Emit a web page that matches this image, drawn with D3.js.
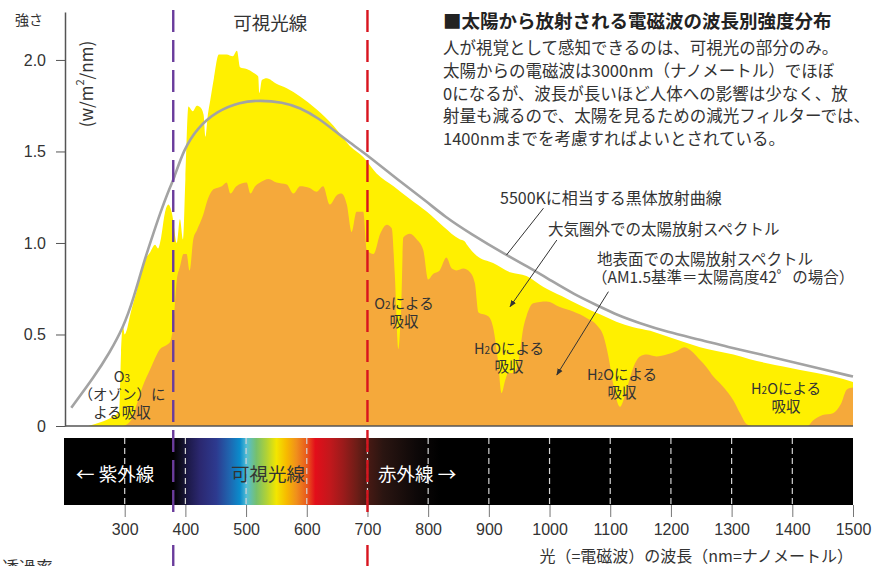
<!DOCTYPE html>
<html>

<head>
    <meta charset="utf-8">
    <style>
        body {
            margin: 0;
            background: #fff;
        }

        svg {
            display: block;
            font-family: "Noto Sans CJK JP", "Noto Sans", sans-serif;
        }

        .y .domain {
            stroke: #555;
            stroke-width: 1.5px;
        }

        .y .tick line {
            stroke: #555;
        }

        .x .domain {
            display: none;
        }

        .x .tick line {
            stroke: #777;
        }

        .tick text {
            font-size: 16px;
            fill: #333;
        }
    </style>
</head>

<body>
    <svg width="875" height="566"></svg>

    <script src="https://cdn.jsdelivr.net/npm/d3@7"></script>

    <script>
        // ---- data ----
        let xTicks = [300, 400, 500, 600, 700, 800, 900, 1000, 1100, 1200, 1300, 1400, 1500]
        let yTicks = [0, 0.5, 1.0, 1.5, 2.0]
        let yTickLabels = ["0", "0.5", "1.0", "1.5", "2.0"]

        // visible light range (violet / red dashed lines)
        let visibleBounds = [380, 700]

        // 5500K black body curve [nm, W/m2/nm]
        let blackbody = [
            [212, 0.10], [250, 0.27], [275, 0.40], [298, 0.54], [315, 0.70], [331, 0.89], [345, 1.03],
            [358, 1.16], [375, 1.31], [380, 1.34], [397, 1.51], [420, 1.63], [452, 1.72], [490, 1.77],
            [523, 1.78], [560, 1.77], [589, 1.74], [620, 1.68], [643, 1.62], [670, 1.55], [700, 1.48],
            [754, 1.335], [800, 1.22], [825, 1.15], [870, 1.05], [929, 0.934], [962, 0.874], [1000, 0.80],
            [1040, 0.72], [1083, 0.652], [1111, 0.607], [1150, 0.56], [1193, 0.515], [1250, 0.47],
            [1292, 0.433], [1350, 0.39], [1400, 0.35], [1450, 0.31], [1500, 0.27]
        ]

        // spectrum outside the atmosphere [nm, W/m2/nm]
        let extraterrestrial = [
            [240, 0], [260, 0.02], [280, 0.05], [291, 0.08], [294, 0.40], [297, 0.55], [300, 0.50],
            [303, 0.52], [310, 0.62], [320, 0.74], [331, 0.89], [342, 0.95], [350, 0.99], [355, 0.97],
            [360, 1.03], [366, 1.16], [372, 1.21], [378, 1.16], [386, 1.00], [391, 1.13], [396, 1.02],
            [400, 1.35], [405, 1.745], [412, 1.72], [419, 1.75], [425, 1.74], [430, 1.70], [433, 1.58],
            [437, 1.70], [441, 1.78], [447, 1.90], [455, 2.03], [468, 2.03], [478, 2.02], [485, 2.05],
            [490, 1.96], [501, 1.95], [512, 1.93], [520, 1.91], [522, 1.82], [526, 1.89], [534, 1.90],
            [550, 1.87], [567, 1.845], [589, 1.80], [616, 1.73], [644, 1.64], [671, 1.53], [693, 1.47],
            [715, 1.38], [743, 1.31], [770, 1.24], [798, 1.17], [825, 1.09], [852, 1.02], [860, 1.01],
            [864, 0.99], [880, 0.93], [907, 0.89], [935, 0.84], [962, 0.82], [990, 0.76], [1020, 0.71],
            [1050, 0.66], [1083, 0.61], [1110, 0.57], [1138, 0.54], [1166, 0.52], [1193, 0.49],
            [1220, 0.46], [1248, 0.43], [1275, 0.41], [1303, 0.39], [1330, 0.365], [1358, 0.343],
            [1385, 0.325], [1413, 0.306], [1440, 0.29], [1468, 0.27], [1500, 0.24]
        ]

        // spectrum at the ground, AM1.5 [nm, W/m2/nm]
        let surface = [
            [298, 0], [310, 0.03], [320, 0.12], [330, 0.22], [342, 0.31], [350, 0.37], [358, 0.42],
            [368, 0.44], [375, 0.46], [380, 0.55], [386, 0.80], [391, 0.87], [397, 0.94], [402, 0.94],
            [407, 0.85], [413, 1.02], [419, 1.07], [429, 1.15], [437, 1.24], [445, 1.29], [452, 1.30],
            [460, 1.31], [468, 1.33], [474, 1.27], [484, 1.31], [501, 1.33], [507, 1.27], [515, 1.31],
            [523, 1.33], [537, 1.35], [550, 1.33], [567, 1.32], [578, 1.27], [589, 1.31], [605, 1.30],
            [616, 1.28], [627, 1.31], [638, 1.21], [649, 1.26], [657, 1.27], [666, 1.21], [674, 1.06],
            [682, 1.17], [693, 1.17], [699, 0.96], [710, 0.94], [721, 1.05], [732, 1.10], [740, 1.08],
            [745, 0.83], [751, 0.42], [756, 0.70], [759, 1.03], [770, 1.05], [781, 1.02], [792, 0.96],
            [800, 0.80], [808, 0.83], [819, 0.85], [830, 0.92], [839, 0.86], [847, 0.85], [858, 0.86],
            [869, 0.84], [877, 0.78], [883, 0.62], [899, 0.60], [907, 0.54], [915, 0.36], [921, 0.18],
            [927, 0.25], [932, 0.29], [940, 0.29], [948, 0.34], [957, 0.54], [962, 0.60], [973, 0.67],
            [995, 0.68], [1017, 0.65], [1039, 0.625], [1061, 0.59], [1078, 0.55], [1089, 0.49],
            [1097, 0.38], [1105, 0.23], [1116, 0.105], [1127, 0.20], [1138, 0.32], [1149, 0.38],
            [1160, 0.39], [1176, 0.38], [1193, 0.39], [1210, 0.41], [1222, 0.43], [1237, 0.40],
            [1248, 0.36], [1259, 0.32], [1270, 0.27], [1286, 0.215], [1303, 0.14], [1314, 0.07],
            [1325, 0.01], [1335, 0], [1425, 0], [1434, 0.03], [1450, 0.06], [1467, 0.07], [1480, 0.12],
            [1490, 0.20], [1500, 0.21]
        ]

        // colour of light along the band [nm, colour]
        let spectrumStops = [
            [380, "#000000"], [395, "#121028"], [405, "#1d1a4a"], [424, "#2b2870"], [451, "#2d3a8f"],
            [473, "#1f66b0"], [490, "#0a8ccc"], [501, "#56bfd6"], [517, "#76c06d"], [534, "#b2d235"],
            [550, "#f3e600"], [567, "#f7b900"], [583, "#f08f1c"], [600, "#e85a1d"], [614, "#e30e1a"],
            [638, "#c2181c"], [660, "#9b1b1b"], [682, "#6e1d17"], [699, "#4a1a14"], [726, "#2a1511"],
            [781, "#0d0808"], [820, "#000000"]
        ]

        let bodyLines = [
            "人が視覚として感知できるのは、可視光の部分のみ。",
            "太陽からの電磁波は3000nm（ナノメートル）でほぼ",
            "0になるが、波長が長いほど人体への影響は少なく、放",
            "射量も減るので、太陽を見るための減光フィルターでは、",
            "1400nmまでを考慮すればよいとされている。"
        ]

        let width = 875
        let height = 566

        let svg = d3.select("svg")

        let x = d3.scaleLinear()
            .domain([200, 1500])
            .range([64, 853])

        let y = d3.scaleLinear()
            .domain([0, 2.262])
            .range([426, 12])

        let defs = svg.append("defs")

        // gradient for the spectrum band
        let grad = defs.append("linearGradient")
            .attr("id", "spectrum")
            .attr("gradientUnits", "userSpaceOnUse")
            .attr("x1", x(200))
            .attr("x2", x(1500))
            .attr("y1", 0)
            .attr("y2", 0)

        grad.selectAll("stop")
            .data(spectrumStops)
            .join("stop")
            .attr("offset", d => (x(d[0]) - x(200)) / (x(1500) - x(200)))
            .attr("stop-color", d => d[1])

        defs.append("marker")
            .attr("id", "arrow")
            .attr("viewBox", "0 0 10 10")
            .attr("refX", 9)
            .attr("refY", 5)
            .attr("markerWidth", 7)
            .attr("markerHeight", 7)
            .attr("orient", "auto")
            .append("path")
            .attr("d", "M0,1 L10,5 L0,9 Z")
            .attr("fill", "#333")

        // ---- areas ----
        let area = d3.area()
            .x(d => x(d[0]))
            .y0(y(0))
            .y1(d => y(d[1]))
            .curve(d3.curveMonotoneX)

        svg.append("path")
            .datum(extraterrestrial)
            .attr("d", area)
            .attr("fill", "#fff000")

        svg.append("path")
            .datum(surface)
            .attr("d", area)
            .attr("fill", "#f5a93b")

        // black body curve
        svg.append("path")
            .datum(blackbody)
            .attr("d", d3.line().x(d => x(d[0])).y(d => y(d[1])).curve(d3.curveBasis))
            .attr("fill", "none")
            .attr("stroke", "#a3a3a3")
            .attr("stroke-width", 2.6)

        // base line
        svg.append("line")
            .attr("x1", x(200) + 1)
            .attr("x2", x(1500))
            .attr("y1", y(0))
            .attr("y2", y(0))
            .attr("stroke", "#555")
            .attr("stroke-width", 1.5)

        // y axis
        svg.append("g")
            .attr("class", "y axis")
            .attr("transform", `translate(${x(200) + 1},0)`)
            .call(d3.axisLeft(y)
                .tickValues(yTicks)
                .tickFormat((d, i) => yTickLabels[i])
                .tickSize(9)
                .tickPadding(10)
                .tickSizeOuter(0))

        svg.append("text")
            .attr("x", 15)
            .attr("y", 19)
            .attr("dominant-baseline", "central")
            .style("font-size", "14px")
            .style("fill", "#333")
            .text("強さ")

        let unit = svg.append("text")
            .attr("transform", "translate(85,84) rotate(-90)")
            .attr("text-anchor", "middle")
            .attr("dominant-baseline", "central")
            .style("font-size", "17px")
            .style("fill", "#333")
        unit.append("tspan").text("(w/m")
        unit.append("tspan").attr("dy", -6).style("font-size", "11px").text("2")
        unit.append("tspan").attr("dy", 6).text("/nm)")

        // ---- spectrum band ----
        let bandTop = 438
        let bandBottom = 505

        svg.append("rect")
            .attr("x", x(200))
            .attr("y", bandTop)
            .attr("width", x(1500) - x(200))
            .attr("height", bandBottom - bandTop)
            .attr("fill", "url(#spectrum)")

        svg.append("g")
            .selectAll("line")
            .data(xTicks.filter(d => d < 1500))
            .join("line")
            .attr("x1", d => x(d))
            .attr("x2", d => x(d))
            .attr("y1", bandTop)
            .attr("y2", bandBottom)
            .attr("stroke", "#d4d4d4")
            .attr("stroke-width", 1.2)
            .attr("stroke-dasharray", "6,4")

        svg.append("g")
            .attr("class", "x axis")
            .attr("transform", `translate(0,${bandBottom})`)
            .call(d3.axisBottom(x)
                .tickValues(xTicks)
                .tickFormat(d3.format("d"))
                .tickSize(12)
                .tickPadding(7))

        let bandText = svg.append("g")
            .style("font-size", "18.5px")
            .attr("dominant-baseline", "central")

        bandText.append("text")
            .attr("x", 76)
            .attr("y", 473)
            .style("fill", "#fff")
            .text("← 紫外線")

        bandText.append("text")
            .attr("x", 268)
            .attr("y", 473)
            .attr("text-anchor", "middle")
            .style("fill", "#333")
            .text("可視光線")

        bandText.append("text")
            .attr("x", 378)
            .attr("y", 473)
            .style("fill", "#fff")
            .text("赤外線 →")

        // ---- visible light boundaries ----
        let boundColors = ["#6a3c9c", "#d8141e"]
        let boundSegments = [[10, 517], [545, 566]]

        visibleBounds.forEach(function (nm, i) {
            svg.append("g")
                .selectAll("line")
                .data(boundSegments)
                .join("line")
                .attr("x1", x(nm))
                .attr("x2", x(nm))
                .attr("y1", d => d[0])
                .attr("y2", d => d[1])
                .attr("stroke", boundColors[i])
                .attr("stroke-width", 2.4)
                .attr("stroke-dasharray", (d, j) => j == 0 ? "22,8" : null)
        })

        svg.append("text")
            .attr("x", (x(visibleBounds[0]) + x(visibleBounds[1])) / 2)
            .attr("y", 22)
            .attr("text-anchor", "middle")
            .attr("dominant-baseline", "central")
            .style("font-size", "18.5px")
            .style("fill", "#333")
            .text("可視光線")

        // ---- title and description ----
        svg.append("text")
            .attr("x", 443)
            .attr("y", 20)
            .attr("dominant-baseline", "central")
            .style("font-size", "18.5px")
            .style("font-weight", "bold")
            .style("fill", "#222")
            .text("■太陽から放射される電磁波の波長別強度分布")

        svg.append("g")
            .selectAll("text")
            .data(bodyLines)
            .join("text")
            .attr("x", 443)
            .attr("y", (d, i) => 47 + i * 22.8)
            .attr("dominant-baseline", "central")
            .style("font-size", "16.5px")
            .style("fill", "#333")
            .text(d => d)

        // ---- annotations ----
        let labels = svg.append("g")
            .style("fill", "#333")
            .attr("dominant-baseline", "central")

        labels.append("text").attr("x", 500).attr("y", 197).style("font-size", "16px")
            .text("5500Kに相当する黒体放射曲線")
        labels.append("text").attr("x", 548).attr("y", 228).style("font-size", "15.5px")
            .text("大気圏外での太陽放射スペクトル")
        labels.append("text").attr("x", 597).attr("y", 258).style("font-size", "15.5px")
            .text("地表面での太陽放射スペクトル")
        labels.append("text").attr("x", 592).attr("y", 276).style("font-size", "15.5px")
            .text("（AM1.5基準＝太陽高度42゜の場合）")

        // leader lines [from nm, from value, to nm, to value, arrow]
        let leaders = [
            [990, 1.19, 929, 0.934, false],
            [1012, 1.016, 935, 0.652, true],
            [1097, 0.734, 1012, 0.279, true]
        ]

        svg.append("g")
            .selectAll("line")
            .data(leaders)
            .join("line")
            .attr("x1", d => x(d[0]))
            .attr("y1", d => y(d[1]))
            .attr("x2", d => x(d[2]))
            .attr("y2", d => y(d[3]))
            .attr("stroke", "#333")
            .attr("stroke-width", 1)
            .attr("marker-end", d => d[4] ? "url(#arrow)" : null)

        // absorption labels
        function absorbLabel(cx, cy, mol, sub, tail, second) {
            let t = labels.append("text")
                .attr("x", cx)
                .attr("y", cy)
                .attr("text-anchor", "middle")
                .style("font-size", "14.5px")
            t.append("tspan").text(mol)
            t.append("tspan").attr("dy", 2).style("font-size", "10px").text(sub)
            t.append("tspan").attr("dy", -2).text(tail)
            labels.append("text")
                .attr("x", cx)
                .attr("y", cy + 18)
                .attr("text-anchor", "middle")
                .style("font-size", "14.5px")
                .text(second)
        }

        let o3 = labels.append("text")
            .attr("x", 122)
            .attr("y", 375)
            .attr("text-anchor", "middle")
            .style("font-size", "14.5px")
        o3.append("tspan").text("O")
        o3.append("tspan").attr("dy", 2).style("font-size", "10px").text("3")
        labels.append("text").attr("x", 122).attr("y", 393).attr("text-anchor", "middle")
            .style("font-size", "14.5px").text("（オゾン）に")
        labels.append("text").attr("x", 122).attr("y", 411).attr("text-anchor", "middle")
            .style("font-size", "14.5px").text("よる吸収")

        absorbLabel(404, 302, "O", "2", "による", "吸収")
        absorbLabel(509, 347, "H", "2", "Oによる", "吸収")
        absorbLabel(622, 373, "H", "2", "Oによる", "吸収")
        absorbLabel(786, 387, "H", "2", "Oによる", "吸収")

        // ---- x axis title ----
        svg.append("text")
            .attr("x", 853)
            .attr("y", 555)
            .attr("text-anchor", "end")
            .attr("dominant-baseline", "central")
            .style("font-size", "16px")
            .style("fill", "#333")
            .text("光（=電磁波）の波長（nm=ナノメートル）")

        svg.append("text")
            .attr("x", 2)
            .attr("y", 566)
            .attr("dominant-baseline", "central")
            .style("font-size", "17px")
            .style("fill", "#333")
            .text("透過率")
    </script>
</body>

</html>
